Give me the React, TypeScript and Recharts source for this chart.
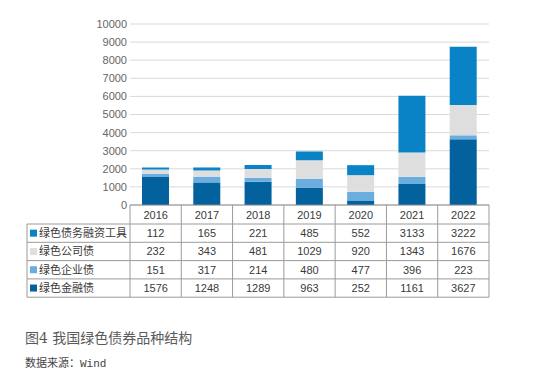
import React from 'react';
import { BarChart, Bar, XAxis, YAxis, CartesianGrid } from 'recharts';

const years = ['2016', '2017', '2018', '2019', '2020', '2021', '2022'];
const financial = [1576, 1248, 1289, 963, 252, 1161, 3627];
const enterprise = [151, 317, 214, 480, 477, 396, 223];
const corporate = [232, 343, 481, 1029, 920, 1343, 1676];
const debtInstr = [112, 165, 221, 485, 552, 3133, 3222];
const yTicks = [0, 1000, 2000, 3000, 4000, 5000, 6000, 7000, 8000, 9000, 10000];

const series = [
  { key: 'financial', name: '绿色金融债', values: financial, color: '#03619E' },
  { key: 'enterprise', name: '绿色企业债', values: enterprise, color: '#6AAEE0' },
  { key: 'corporate', name: '绿色公司债', values: corporate, color: '#DEDEDE' },
  { key: 'debtInstr', name: '绿色债务融资工具', values: debtInstr, color: '#0A83C6' },
];

const data = years.map((y, i) => {
  const row: Record<string, string | number> = { year: y };
  series.forEach((s) => {
    row[s.key] = s.values[i];
  });
  return row;
});

const FONT = "'Liberation Sans', 'Noto Sans CJK SC', sans-serif";
const PLOT_LEFT = 130;
const PLOT_RIGHT = 489;
const AXIS_Y = 205;
const HEADER_H = 19;
const ROW_H = 18.3;
const TABLE_LEFT = 27;
const BORDER = '#9A9A9A';
const TXT = '#3A3A3A';

function Table() {
  const colW = (PLOT_RIGHT - PLOT_LEFT) / years.length;
  const rows = [...series].reverse();
  const top = AXIS_Y + HEADER_H;
  const bottom = top + rows.length * ROW_H;
  const els: React.ReactNode[] = [];
  for (let i = 0; i <= years.length; i++) {
    const x = PLOT_LEFT + i * colW;
    els.push(<line key={'v' + i} x1={x} x2={x} y1={AXIS_Y} y2={bottom} stroke={BORDER} strokeWidth={1} />);
  }
  els.push(<line key="vl" x1={TABLE_LEFT} x2={TABLE_LEFT} y1={top} y2={bottom} stroke={BORDER} strokeWidth={1} />);
  for (let r = 0; r <= rows.length; r++) {
    const y = top + r * ROW_H;
    els.push(<line key={'h' + r} x1={TABLE_LEFT} x2={PLOT_RIGHT} y1={y} y2={y} stroke={BORDER} strokeWidth={1} />);
  }
  years.forEach((yr, i) => {
    els.push(
      <text key={'y' + i} x={PLOT_LEFT + (i + 0.5) * colW} y={AXIS_Y + 14} textAnchor="middle" fontSize={11} fill={TXT} fontFamily={FONT}>
        {yr}
      </text>
    );
  });
  rows.forEach((s, r) => {
    const yc = top + r * ROW_H + ROW_H / 2;
    els.push(<rect key={'m' + r} x={30} y={yc - 3.5} width={7} height={7} fill={s.color} />);
    els.push(
      <text key={'n' + r} x={39} y={yc + 4} fontSize={11} fill={TXT} fontFamily={FONT}>
        {s.name}
      </text>
    );
    s.values.forEach((v, i) => {
      els.push(
        <text key={'c' + r + '-' + i} x={PLOT_LEFT + (i + 0.5) * colW} y={yc + 4} textAnchor="middle" fontSize={11} fill={TXT} fontFamily={FONT}>
          {v}
        </text>
      );
    });
  });
  return (
    <svg width={545} height={388} style={{ position: 'absolute', left: 0, top: 0, pointerEvents: 'none' }}>
      {els}
      <text x={25} y={343} fontSize={14} fill="#5A5A5A" fontFamily="'DejaVu Serif', 'Noto Sans CJK SC', serif">
        图4 我国绿色债券品种结构
      </text>
      <text x={25} y={367} fontSize={11} fill="#444444" fontFamily="'Noto Sans CJK SC', serif">
        数据来源：<tspan fontFamily="'Liberation Mono', monospace">Wind</tspan>
      </text>
    </svg>
  );
}

export default function App() {
  return (
    <div style={{ position: 'absolute', left: 0, top: 0, width: 545, height: 388, background: '#ffffff' }}>
      <BarChart
        width={545}
        height={388}
        data={data}
        margin={{ top: 24, right: 545 - PLOT_RIGHT, bottom: 388 - AXIS_Y - 20, left: PLOT_LEFT - 40 }}
      >
        <CartesianGrid horizontal vertical={false} stroke="#D9D9D9" strokeWidth={1} />
        <XAxis dataKey="year" height={20} tick={false} tickLine={false} axisLine={{ stroke: '#8C8C8C' }} />
        <YAxis
          width={40}
          domain={[0, 10000]}
          ticks={yTicks}
          interval={0}
          axisLine={false}
          tickLine={false}
          tickSize={0}
          tickMargin={3}
          tick={{ fontSize: 11, fill: '#666666', fontFamily: FONT }}
        />
        {series.map((s) => (
          <Bar key={s.key} dataKey={s.key} name={s.name} stackId="a" fill={s.color} barSize={27} isAnimationActive={false} />
        ))}
      </BarChart>
      <Table />
    </div>
  );
}
